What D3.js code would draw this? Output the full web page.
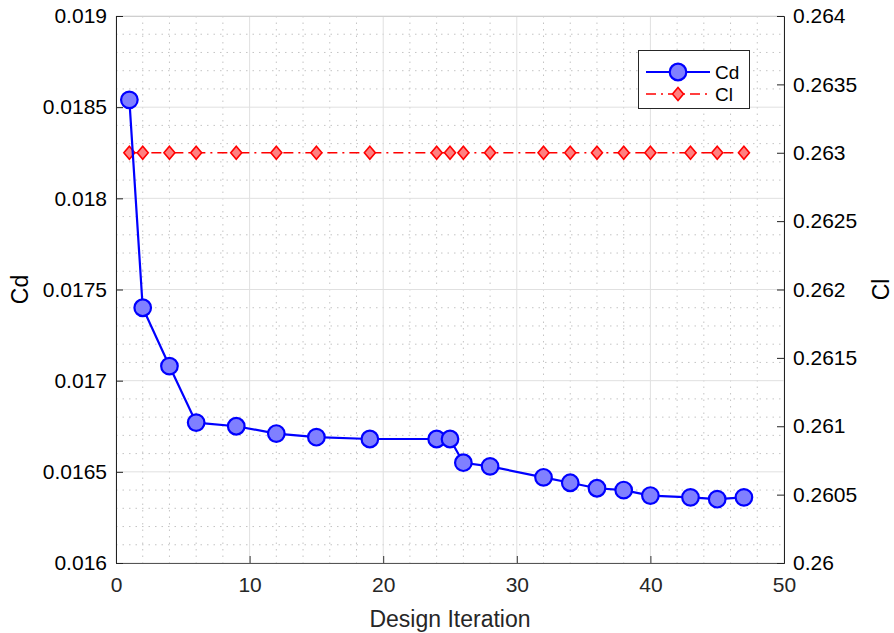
<!DOCTYPE html>
<html>
<head>
<meta charset="utf-8">
<script src="https://cdn.jsdelivr.net/npm/d3@7"></script>
<style>
  html, body { margin: 0; padding: 0; background: #fff; }
  svg { display: block; font-family: "Liberation Sans", Arial, Helvetica, sans-serif; }
</style>
</head>
<body>
<svg id="chart" width="894" height="633"></svg>
<script>
// Design iterations and the coefficients recorded at each one
const iterations = [1, 2, 4, 6, 9, 12, 15, 19, 24, 25, 26, 28, 32, 34, 36, 38, 40, 43, 45, 47];
const cdValues = [0.01854, 0.01740, 0.01708, 0.01677, 0.01675, 0.01671, 0.01669, 0.01668, 0.01668, 0.01668,
                  0.01655, 0.01653, 0.01647, 0.01644, 0.01641, 0.01640, 0.01637, 0.01636, 0.01635, 0.01636];
const clValues = [0.263, 0.263, 0.263, 0.263, 0.263, 0.263, 0.263, 0.263, 0.263, 0.263,
                  0.263, 0.263, 0.263, 0.263, 0.263, 0.263, 0.263, 0.263, 0.263, 0.263];

const xTicks = [0, 10, 20, 30, 40, 50];
const cdTicks = [0.016, 0.0165, 0.017, 0.0175, 0.018, 0.0185, 0.019];
const clTicks = [0.26, 0.2605, 0.261, 0.2615, 0.262, 0.2625, 0.263, 0.2635, 0.264];

const svg = d3.select("#chart");
const L = 116, R = 784, T = 16, B = 563;
const tickFont = 21, titleFont = 23, legendFont = 19;

const x = d3.scaleLinear().domain([0, 50]).range([L, R]);
const yCd = d3.scaleLinear().domain([0.016, 0.019]).range([B, T]);
const yCl = d3.scaleLinear().domain([0.26, 0.264]).range([B, T]);

// Minor grid (dotted)
const g = svg.append("g");
const xMinor = d3.range(0, 50.001, 2).filter(v => v % 10 !== 0);
const yMinor = d3.range(0, 31).map(i => 0.016 + i * 0.0001).filter((v, i) => i % 5 !== 0);
g.selectAll(".xm").data(xMinor).join("line")
  .attr("x1", d => x(d)).attr("x2", d => x(d)).attr("y1", T).attr("y2", B)
  .attr("stroke", "#c4c4c4").attr("stroke-width", 1).attr("stroke-dasharray", "1.5,5");
g.selectAll(".ym").data(yMinor).join("line")
  .attr("x1", L).attr("x2", R).attr("y1", d => yCd(d)).attr("y2", d => yCd(d))
  .attr("stroke", "#c4c4c4").attr("stroke-width", 1).attr("stroke-dasharray", "1.5,5");

// Major grid
g.selectAll(".xg").data(xTicks).join("line")
  .attr("x1", d => x(d)).attr("x2", d => x(d)).attr("y1", T).attr("y2", B)
  .attr("stroke", "#e0e0e0").attr("stroke-width", 1);
g.selectAll(".yg").data(cdTicks).join("line")
  .attr("x1", L).attr("x2", R).attr("y1", d => yCd(d)).attr("y2", d => yCd(d))
  .attr("stroke", "#e0e0e0").attr("stroke-width", 1);

// Top border
svg.append("line").attr("x1", L).attr("x2", R).attr("y1", T + 0.5).attr("y2", T + 0.5)
  .attr("stroke", "#cfcfcf");

// Axes
const axX = svg.append("g").attr("transform", `translate(0,${B})`)
  .call(d3.axisBottom(x).tickValues(xTicks).tickSize(-7).tickPadding(14).tickFormat(d3.format("d")));
axX.select(".domain").attr("stroke", "#555");
axX.selectAll(".tick line").attr("stroke", "#333");
axX.selectAll("text").attr("font-size", tickFont).attr("fill", "#262626");

const axL = svg.append("g").attr("transform", `translate(${L},0)`)
  .call(d3.axisLeft(yCd).tickValues(cdTicks).tickSize(-7).tickPadding(9).tickFormat(d => String(+d.toFixed(4))));
axL.select(".domain").attr("stroke", "#222");
axL.selectAll(".tick line").attr("stroke", "#222");
axL.selectAll("text").attr("font-size", tickFont).attr("fill", "#000");

const axR = svg.append("g").attr("transform", `translate(${R},0)`)
  .call(d3.axisRight(yCl).tickValues(clTicks).tickSize(-7).tickPadding(9).tickFormat(d => String(+d.toFixed(4))));
axR.select(".domain").attr("stroke", "#222");
axR.selectAll(".tick line").attr("stroke", "#222");
axR.selectAll("text").attr("font-size", tickFont).attr("fill", "#000");

// Axis titles
svg.append("text").attr("x", 450).attr("y", 627).attr("text-anchor", "middle")
  .attr("font-size", titleFont).attr("fill", "#262626").text("Design Iteration");
svg.append("text").attr("transform", `translate(28,${(T + B) / 2}) rotate(-90)`)
  .attr("text-anchor", "middle").attr("font-size", titleFont).attr("fill", "#000").text("Cd");
svg.append("text").attr("transform", `translate(889,${(T + B) / 2}) rotate(-90)`)
  .attr("text-anchor", "middle").attr("font-size", titleFont).attr("fill", "#000").text("Cl");

// Cl series: dash-dot red line with diamonds
const clDash = "10,5,2,5";
const clData = iterations.map((it, i) => ({ x: it, y: clValues[i] }));
svg.append("path").datum(clData)
  .attr("d", d3.line().x(d => x(d.x)).y(d => yCl(d.y)))
  .attr("fill", "none").attr("stroke", "#ff0000").attr("stroke-width", 1.6)
  .attr("stroke-dasharray", clDash);
const diamond = "M0,-6.5L5.5,0L0,6.5L-5.5,0Z";
svg.selectAll(".cl").data(clData).join("path")
  .attr("transform", d => `translate(${x(d.x)},${yCl(d.y)})`)
  .attr("d", diamond).attr("fill", "#ff8080").attr("stroke", "#ff0000").attr("stroke-width", 1.6);

// Cd series: solid blue line with circles
const cdData = iterations.map((it, i) => ({ x: it, y: cdValues[i] }));
svg.append("path").datum(cdData)
  .attr("d", d3.line().x(d => x(d.x)).y(d => yCd(d.y)))
  .attr("fill", "none").attr("stroke", "#0000ff").attr("stroke-width", 2.2);
svg.selectAll(".cd").data(cdData).join("circle")
  .attr("cx", d => x(d.x)).attr("cy", d => yCd(d.y)).attr("r", 8.3)
  .attr("fill", "#8080ff").attr("stroke", "#0000ff").attr("stroke-width", 2.2);

// Legend
const lg = svg.append("g");
lg.append("rect").attr("x", 638.5).attr("y", 50.5).attr("width", 111).attr("height", 58)
  .attr("fill", "#fff").attr("stroke", "#262626").attr("stroke-width", 1);
lg.append("line").attr("x1", 646).attr("x2", 710).attr("y1", 72).attr("y2", 72)
  .attr("stroke", "#0000ff").attr("stroke-width", 2.2);
lg.append("circle").attr("cx", 678).attr("cy", 72).attr("r", 8.3)
  .attr("fill", "#8080ff").attr("stroke", "#0000ff").attr("stroke-width", 2.2);
lg.append("text").attr("x", 715).attr("y", 79).attr("font-size", legendFont).attr("fill", "#000").text("Cd");
lg.append("line").attr("x1", 646).attr("x2", 710).attr("y1", 94).attr("y2", 94)
  .attr("stroke", "#ff0000").attr("stroke-width", 1.6).attr("stroke-dasharray", clDash);
lg.append("path").attr("transform", "translate(678,94)").attr("d", diamond)
  .attr("fill", "#ff8080").attr("stroke", "#ff0000").attr("stroke-width", 1.6);
lg.append("text").attr("x", 715).attr("y", 101).attr("font-size", legendFont).attr("fill", "#000").text("Cl");
</script>
</body>
</html>
